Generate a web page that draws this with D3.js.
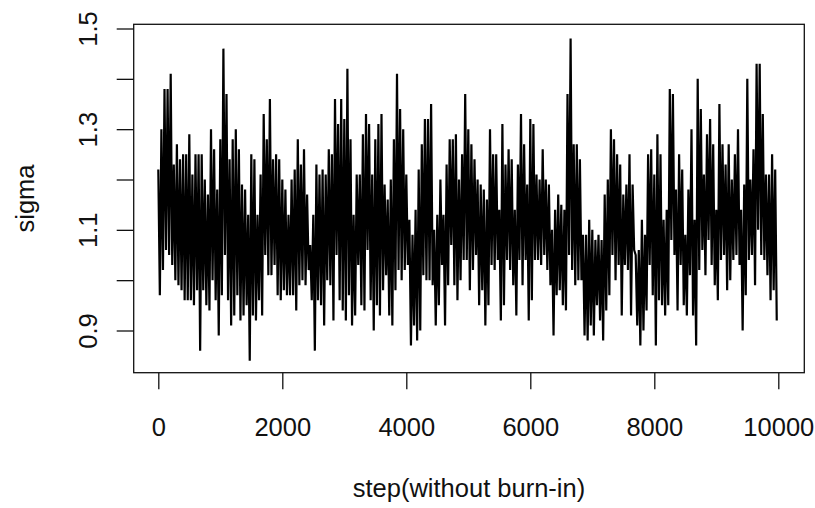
<!DOCTYPE html>
<html>
<head>
<meta charset="utf-8">
<script src="https://cdn.jsdelivr.net/npm/d3@7"></script>
<style>
  body { margin: 0; background: #fff; }
  text { font-family: "Liberation Sans", Arial, sans-serif; fill: #111; }
</style>
</head>
<body>
<div id="chart"></div>
<script>
const binSize = 50;
const sigmaHigh = [
  1.22, 1.30, 1.38, 1.38, 1.41, 1.23, 1.27, 1.24, 1.25, 1.25,
  1.29, 1.21, 1.25, 1.25, 1.25, 1.20, 1.17, 1.30, 1.26, 1.18,
  1.28, 1.46, 1.37, 1.24, 1.28, 1.30, 1.26, 1.19, 1.18, 1.13,
  1.25, 1.24, 1.13, 1.21, 1.33, 1.28, 1.36, 1.24, 1.25, 1.24,
  1.20, 1.18, 1.13, 1.20, 1.22, 1.28, 1.23, 1.26, 1.17, 1.07,
  1.13, 1.23, 1.21, 1.22, 1.21, 1.26, 1.25, 1.36, 1.31, 1.36,
  1.32, 1.42, 1.28, 1.13, 1.21, 1.21, 1.29, 1.33, 1.31, 1.21,
  1.28, 1.31, 1.33, 1.19, 1.16, 1.20, 1.28, 1.41, 1.34, 1.30,
  1.21, 1.12, 1.09, 1.14, 1.22, 1.27, 1.32, 1.32, 1.35, 1.10,
  1.13, 1.20, 1.13, 1.23, 1.28, 1.28, 1.29, 1.20, 1.25, 1.37,
  1.30, 1.27, 1.24, 1.20, 1.19, 1.18, 1.16, 1.30, 1.25, 1.25,
  1.14, 1.31, 1.23, 1.26, 1.24, 1.14, 1.23, 1.33, 1.27, 1.19,
  1.32, 1.31, 1.21, 1.20, 1.26, 1.20, 1.19, 1.10, 1.14, 1.17,
  1.15, 1.14, 1.37, 1.48, 1.27, 1.27, 1.24, 1.09, 1.09, 1.12,
  1.10, 1.08, 1.09, 1.08, 1.17, 1.20, 1.30, 1.28, 1.25, 1.23,
  1.17, 1.19, 1.25, 1.19, 1.05, 1.06, 1.12, 1.09, 1.25, 1.26,
  1.21, 1.29, 1.25, 1.12, 1.14, 1.38, 1.37, 1.18, 1.25, 1.22,
  1.09, 1.18, 1.30, 1.12, 1.40, 1.34, 1.21, 1.29, 1.32, 1.27,
  1.14, 1.35, 1.27, 1.23, 1.27, 1.20, 1.25, 1.30, 1.14, 1.19,
  1.40, 1.20, 1.26, 1.43, 1.43, 1.33, 1.21, 1.21, 1.25, 1.22
];
const sigmaLow = [
  0.97, 1.02, 1.06, 1.05, 1.03, 1.00, 0.99, 0.98, 0.96, 0.96,
  0.96, 0.95, 0.98, 0.86, 0.98, 0.95, 0.94, 1.00, 0.96, 0.89,
  0.97, 1.05, 0.96, 0.91, 0.93, 0.97, 0.92, 0.93, 0.95, 0.84,
  0.93, 0.92, 0.96, 0.93, 1.05, 1.01, 1.01, 1.03, 0.97, 0.96,
  0.98, 0.97, 0.97, 0.97, 0.94, 0.99, 1.00, 0.99, 1.02, 0.96,
  0.86, 0.96, 0.95, 0.91, 1.00, 0.99, 0.92, 1.05, 0.96, 0.94,
  0.92, 0.97, 0.91, 0.93, 1.03, 0.95, 0.94, 1.06, 0.96, 0.90,
  0.95, 0.93, 0.98, 1.01, 0.93, 0.91, 0.98, 1.02, 1.00, 1.02,
  1.03, 0.87, 0.91, 0.88, 0.90, 1.01, 1.00, 1.00, 0.99, 0.91,
  0.95, 1.03, 0.91, 0.99, 1.07, 0.99, 0.96, 1.00, 1.04, 1.04,
  0.98, 1.02, 1.05, 0.95, 0.98, 0.91, 0.95, 1.03, 1.02, 1.04,
  0.92, 0.95, 1.04, 1.02, 0.99, 0.93, 1.04, 0.99, 1.04, 0.92,
  0.96, 1.04, 1.04, 1.03, 1.05, 1.02, 0.99, 0.89, 0.97, 0.98,
  0.95, 0.94, 1.05, 1.02, 0.99, 1.00, 1.00, 0.89, 0.88, 0.91,
  0.89, 0.95, 0.92, 0.88, 0.94, 0.97, 1.05, 1.00, 1.03, 0.93,
  1.03, 1.02, 0.93, 1.06, 0.91, 0.87, 0.90, 0.94, 1.03, 0.97,
  0.87, 0.96, 0.95, 0.93, 0.95, 1.08, 1.05, 0.94, 1.03, 0.95,
  0.93, 1.01, 0.93, 0.87, 1.02, 1.06, 1.01, 1.08, 1.03, 0.99,
  0.96, 1.04, 1.05, 0.98, 1.00, 1.04, 1.05, 1.03, 0.90, 0.97,
  1.04, 1.05, 0.99, 1.10, 1.05, 1.04, 1.01, 0.96, 0.98, 0.92
];
const xTicks = [0, 2000, 4000, 6000, 8000, 10000];
const yTicks = [0.9, 1.0, 1.1, 1.2, 1.3, 1.4, 1.5];
const yTickLabels = ["0.9", "1.1", "1.3", "1.5"];
const xTitle = "step(without burn-in)";
const yTitle = "sigma";

const width = 815, height = 508;
const box = { left: 133.7, right: 804.3, top: 24.3, bottom: 372.7 };

const svg = d3.select("#chart").append("svg")
  .attr("width", width)
  .attr("height", height);

const x = d3.scaleLinear().domain([0, 10000]).range([158.3, 778.3]);
const y = d3.scaleLinear().domain([0.9, 1.5]).range([330.5, 28.5]);

// trace points: high then low within each block
let trace = [];
sigmaHigh.forEach((h, i) => {
  trace.push({ step: i * binSize, v: h });
  trace.push({ step: i * binSize + binSize / 2, v: sigmaLow[i] });
});

const line = d3.line().x(d => x(d.step)).y(d => y(d.v));

svg.append("path")
  .datum(trace)
  .attr("fill", "none")
  .attr("stroke", "#000")
  .attr("stroke-width", 2.2)
  .attr("stroke-linejoin", "bevel")
  .attr("d", line);

// plot box
svg.append("rect")
  .attr("x", box.left)
  .attr("y", box.top)
  .attr("width", box.right - box.left)
  .attr("height", box.bottom - box.top)
  .attr("fill", "none")
  .attr("stroke", "#111")
  .attr("stroke-width", 1.3);

// x axis
const xAxis = svg.append("g")
  .attr("transform", `translate(0,${box.bottom})`)
  .call(d3.axisBottom(x).tickValues(xTicks).tickSize(16.6).tickSizeOuter(0).tickFormat(d3.format("d")));
xAxis.select(".domain").remove();
xAxis.selectAll(".tick line").attr("stroke", "#111").attr("stroke-width", 1.3);
xAxis.selectAll(".tick text")
  .attr("y", 63.3)
  .attr("dy", 0)
  .attr("fill", "#111")
  .style("font-size", "25.5px")
  .style("font-family", "'Liberation Sans', Arial, sans-serif");

// y axis
const yAxis = svg.append("g")
  .attr("transform", `translate(${box.left},0)`)
  .call(d3.axisLeft(y).tickValues(yTicks).tickSize(17).tickSizeOuter(0)
    .tickFormat(d => {
      const s = d3.format(".1f")(d);
      return yTickLabels.includes(s) ? s : "";
    }));
yAxis.select(".domain").remove();
yAxis.selectAll(".tick line").attr("stroke", "#111").attr("stroke-width", 1.3);
yAxis.selectAll(".tick text")
  .attr("transform", "rotate(-90)")
  .attr("x", 0)
  .attr("y", -37)
  .attr("dy", 0)
  .attr("text-anchor", "middle")
  .attr("fill", "#111")
  .style("font-size", "25.5px")
  .style("font-family", "'Liberation Sans', Arial, sans-serif");

// axis titles
svg.append("text")
  .attr("x", (box.left + box.right) / 2)
  .attr("y", 496.7)
  .attr("text-anchor", "middle")
  .style("font-size", "25.5px")
  .text(xTitle);

svg.append("text")
  .attr("transform", `translate(33.5,${(box.top + box.bottom) / 2}) rotate(-90)`)
  .attr("text-anchor", "middle")
  .style("font-size", "25.5px")
  .text(yTitle);
</script>
</body>
</html>
